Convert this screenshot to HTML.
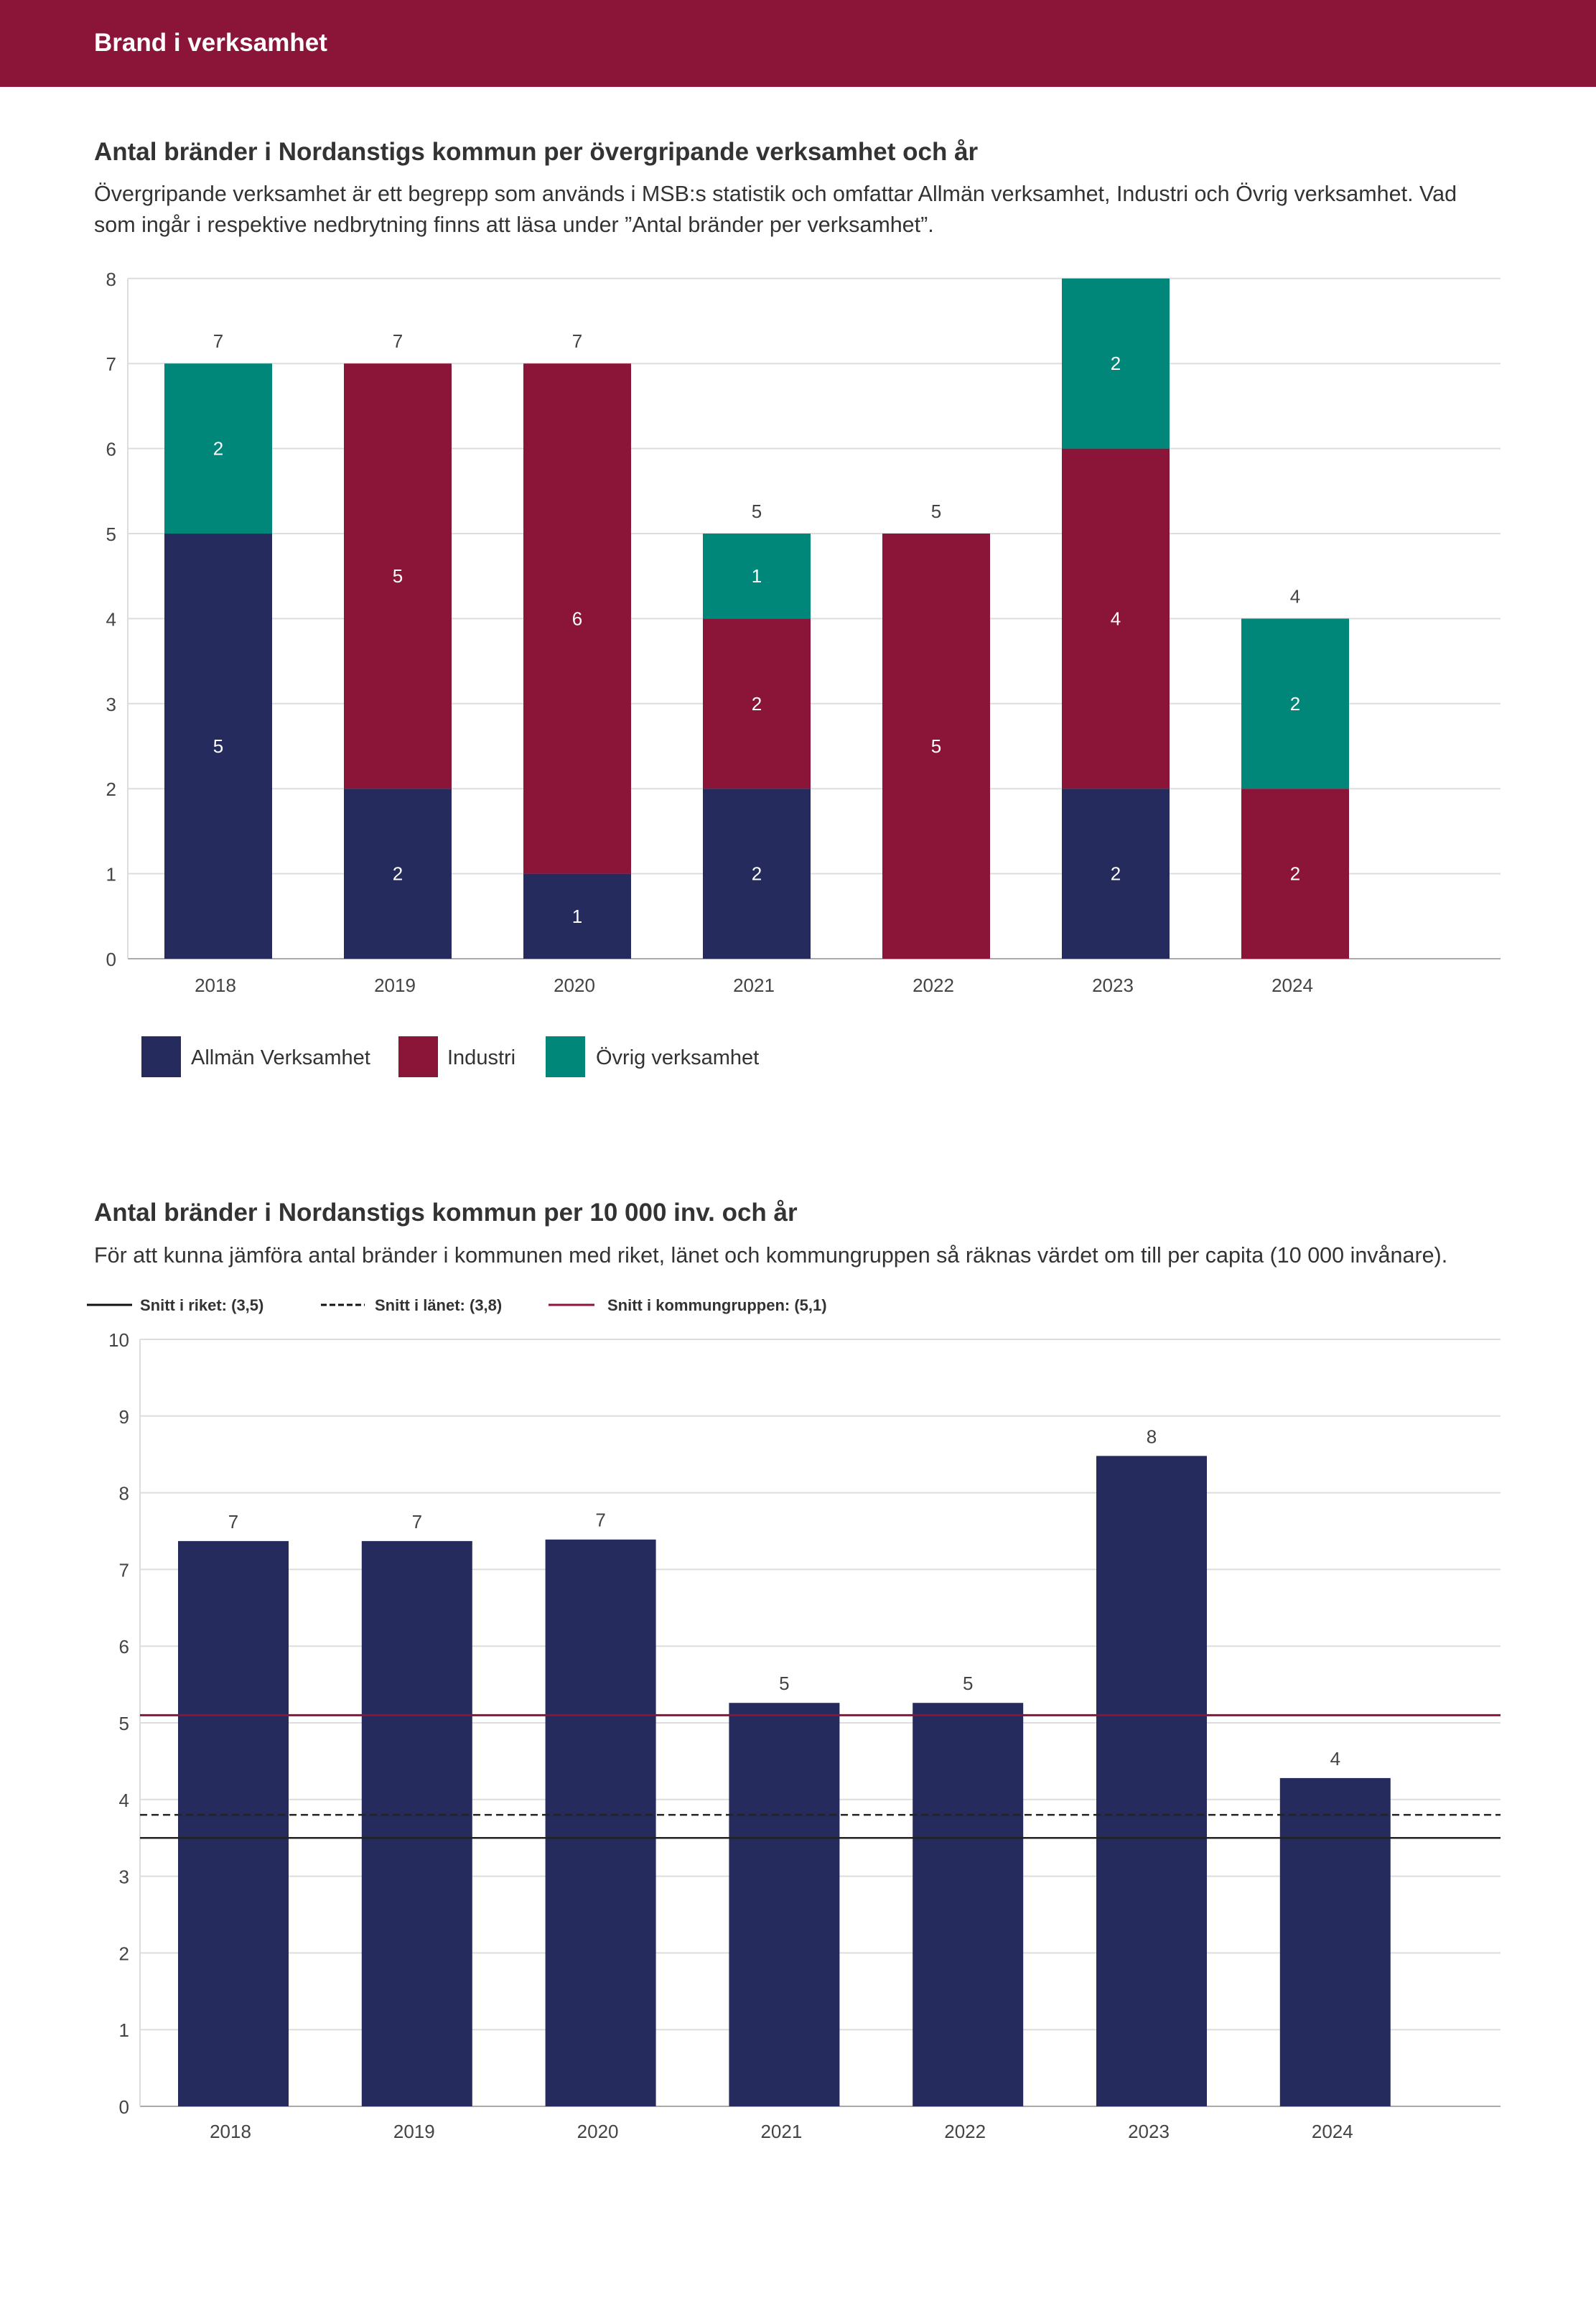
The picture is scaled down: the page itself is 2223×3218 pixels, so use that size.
<!DOCTYPE html>
<html><head><meta charset="utf-8">
<style>
body{margin:0;width:2223px;height:3213px;background:#fff;font-family:"Liberation Sans",sans-serif;overflow:hidden;}
svg text{font-family:"Liberation Sans",sans-serif;}
</style></head>
<body>
<svg id="s" width="2223" height="3213" xmlns="http://www.w3.org/2000/svg">
<rect x="0" y="0" width="2223" height="121" fill="#8b1538"/>
<text x="131" y="71" font-size="35" font-weight="bold" fill="#fff">Brand i verksamhet</text>
<text x="131" y="223" font-size="35" font-weight="bold" fill="#333">Antal bränder i Nordanstigs kommun per övergripande verksamhet och år</text>
<text x="131" y="280" font-size="30.5" fill="#333">Övergripande verksamhet är ett begrepp som används i MSB:s statistik och omfattar Allmän verksamhet, Industri och Övrig verksamhet. Vad</text>
<text x="131" y="323" font-size="30.5" fill="#333">som ingår i respektive nedbrytning finns att läsa under ”Antal bränder per verksamhet”.</text>
<g id="c1"></g>
<g>
<rect x="197" y="1443" width="55" height="57" fill="#252b5c"/>
<text x="266" y="1482" font-size="29" fill="#333">Allmän Verksamhet</text>
<rect x="555" y="1443" width="55" height="57" fill="#8b1538"/>
<text x="623" y="1482" font-size="29" fill="#333">Industri</text>
<rect x="760" y="1443" width="55" height="57" fill="#00877a"/>
<text x="830" y="1482" font-size="29" fill="#333">Övrig verksamhet</text>
</g>
<text x="131" y="1700" font-size="35" font-weight="bold" fill="#333">Antal bränder i Nordanstigs kommun per 10 000 inv. och år</text>
<text x="131" y="1758" font-size="30.5" fill="#333">För att kunna jämföra antal bränder i kommunen med riket, länet och kommungruppen så räknas värdet om till per capita (10 000 invånare).</text>
<g>
<line x1="121" y1="1817" x2="184" y2="1817" stroke="#111" stroke-width="3"/>
<text x="195" y="1825" font-size="22" font-weight="bold" fill="#333">Snitt i riket: (3,5)</text>
<line x1="447" y1="1817" x2="508" y2="1817" stroke="#111" stroke-width="3" stroke-dasharray="8,4"/>
<text x="522" y="1825" font-size="22" font-weight="bold" fill="#333">Snitt i länet: (3,8)</text>
<line x1="764" y1="1817" x2="828" y2="1817" stroke="#8b1538" stroke-width="3"/>
<text x="846" y="1825" font-size="22" font-weight="bold" fill="#333">Snitt i kommungruppen: (5,1)</text>
</g>
<g id="c2"></g>
</svg>
<script>
const years=["2018","2019","2020","2021","2022","2023","2024"];
const allman=[5,2,1,2,0,2,0];
const industri=[0,5,6,2,5,4,2];
const ovrig=[2,0,0,1,0,2,2];
const ticks1=[0,1,2,3,4,5,6,7,8];
const perCapita=[7.37,7.37,7.39,5.26,5.26,8.48,4.28];
const ticks2=[0,1,2,3,4,5,6,7,8,9,10];
const refRiket=3.5, refLanet=3.8, refKommun=5.1;

const NS="http://www.w3.org/2000/svg";
function mk(parent,tag,attrs,txt){const e=document.createElementNS(NS,tag);for(const k in attrs)e.setAttribute(k,attrs[k]);if(txt!==undefined)e.textContent=txt;parent.appendChild(e);return e;}

// Chart 1
const c1=document.getElementById('c1');
const y1=v=>1335-v*118.4;
const x1=i=>304+i*250;
const L1=178,R1=2090,bw1=150;
const max1=ticks1[ticks1.length-1];
ticks1.forEach(t=>{
  const g=mk(c1,'line',{x1:L1,x2:R1,y1:y1(t),y2:y1(t),stroke:t===0?'#aaa':'#ddd','stroke-width':2});
  
  
  const tl=mk(c1,'text',{x:162,y:y1(t)+10,'font-size':26,fill:'#444','text-anchor':'end'},String(t));
  
  
});
const ax1=mk(c1,'line',{x1:L1,x2:L1,y1:y1(8),y2:y1(0),stroke:'#ddd','stroke-width':2});


const series=[[allman,'#252b5c','allman'],[industri,'#8b1538','industri'],[ovrig,'#00877a','ovrig']];
years.forEach((yr,i)=>{
  let base=0;
  series.forEach(([arr,col,nm])=>{
    const v=arr[i]; if(!v) return;
    const r=mk(c1,'rect',{x:x1(i)-bw1/2,y:y1(base+v),width:bw1,height:y1(base)-y1(base+v),fill:col});
    
    
    const t=mk(c1,'text',{x:x1(i),y:(y1(base)+y1(base+v))/2+9,'font-size':26,fill:'#fff','text-anchor':'middle'},String(v));
    
    
    base+=v;
  });
  if(base<max1){
    const tt=mk(c1,'text',{x:x1(i),y:y1(base)-22,'font-size':26,fill:'#444','text-anchor':'middle'},String(base));
    
    
  }
  const xl=mk(c1,'text',{x:x1(i)-4,y:1381,'font-size':26,fill:'#444','text-anchor':'middle'},yr);
  
  
});

// Chart 2
const c2=document.getElementById('c2');
const y2=v=>2933-v*106.8;
const x2=i=>325+i*255.8;
const L2=195,R2=2090,bw2=154;
ticks2.forEach(t=>{
  const g=mk(c2,'line',{x1:L2,x2:R2,y1:y2(t),y2:y2(t),stroke:t===0?'#aaa':'#ddd','stroke-width':2});
  
  
  const tl=mk(c2,'text',{x:180,y:y2(t)+10,'font-size':26,fill:'#444','text-anchor':'end'},String(t));
  
  
});
const ax2=mk(c2,'line',{x1:L2,x2:L2,y1:y2(10),y2:y2(0),stroke:'#ddd','stroke-width':2});


years.forEach((yr,i)=>{
  const v=perCapita[i];
  const r=mk(c2,'rect',{x:x2(i)-bw2/2,y:y2(v),width:bw2,height:y2(0)-y2(v),fill:'#252b5c'});
  
  
  const t=mk(c2,'text',{x:x2(i),y:y2(v)-18,'font-size':26,fill:'#444','text-anchor':'middle'},String(Math.round(v)));
  
  
  const xl=mk(c2,'text',{x:x2(i)-4,y:2977,'font-size':26,fill:'#444','text-anchor':'middle'},yr);
  
  
});
const lk=mk(c2,'line',{x1:L2,x2:R2,y1:y2(refKommun),y2:y2(refKommun),stroke:'#8b1538','stroke-width':3});


const ll=mk(c2,'line',{x1:L2,x2:R2,y1:y2(refLanet),y2:y2(refLanet),stroke:'#222','stroke-width':2.5,'stroke-dasharray':'10,6'});


const lr=mk(c2,'line',{x1:L2,x2:R2,y1:y2(refRiket),y2:y2(refRiket),stroke:'#222','stroke-width':2.5});


</script>
</body></html>
